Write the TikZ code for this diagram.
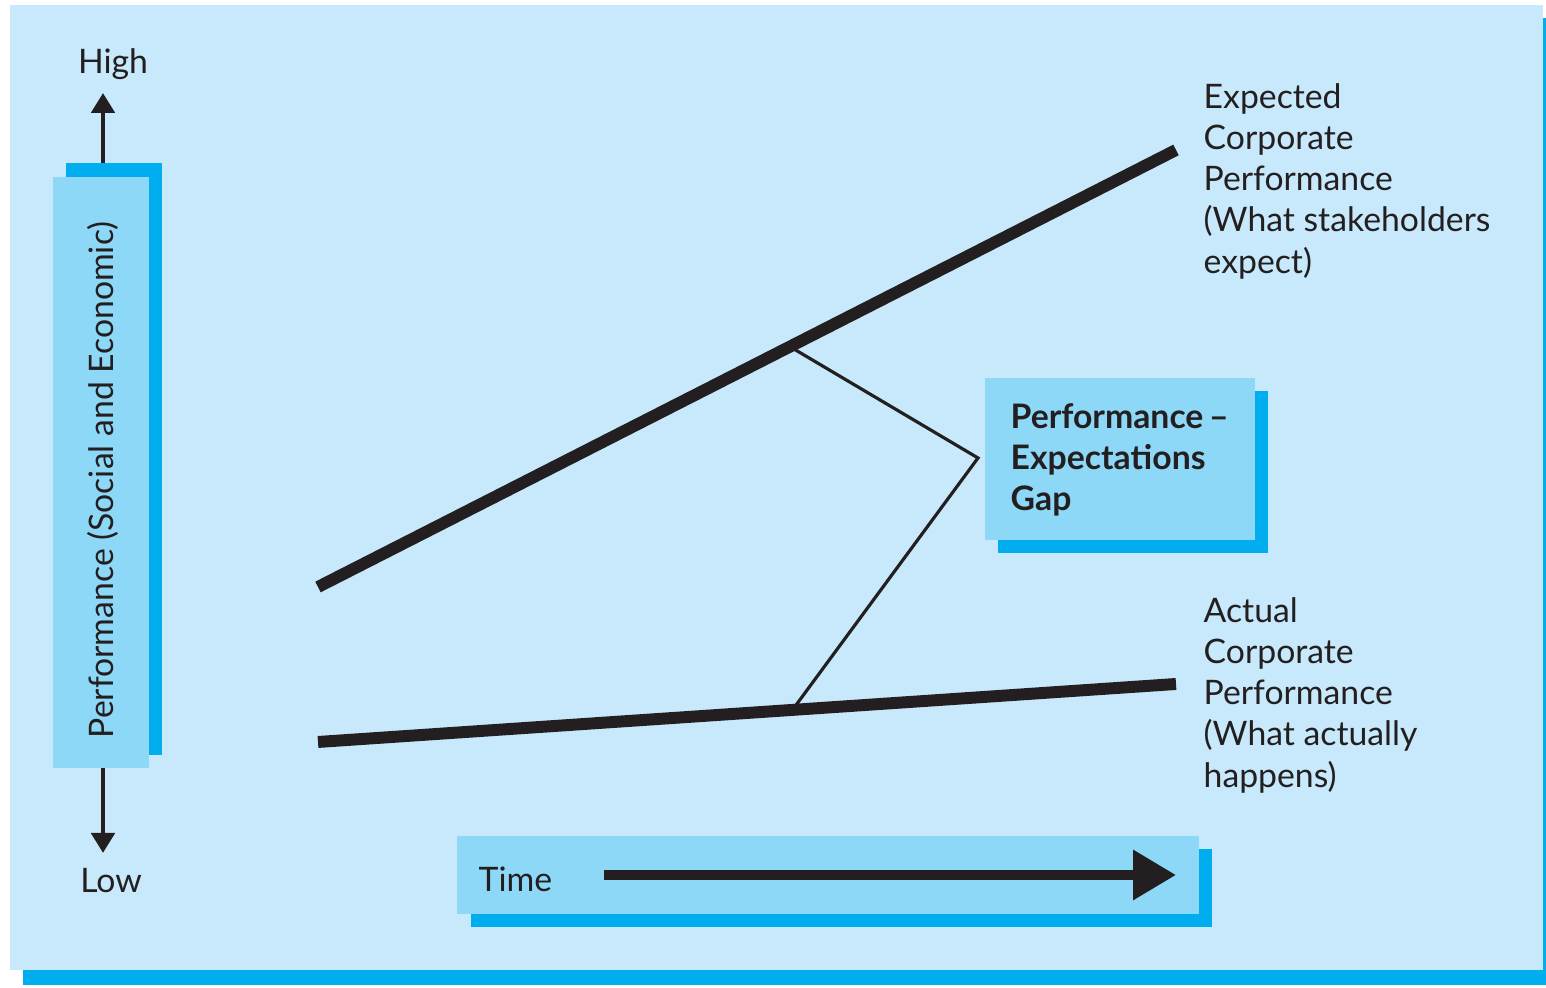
\documentclass[tikz,border=0pt]{standalone}
\usepackage{fontspec}
\setmainfont{Lato}
\usepackage{tikz}
\usetikzlibrary{calc, arrows.meta}
\definecolor{panelbg}{HTML}{C7E9FB}
\definecolor{boxfill}{HTML}{8DD7F7}
\definecolor{boxshade}{HTML}{00AEEF}
\definecolor{ink}{HTML}{231F20}
\tikzset{
    perfline/.style={ink, line width=3.4pt},
    gapline/.style={ink, line width=0.9pt, line join=miter},
    axisarrow/.style={ink, line width=1.4pt, -{Triangle[width=0.23cm,length=0.2cm]}},
    timearrow/.style={ink, line width=2.8pt, -{Triangle[width=0.48cm,length=0.43cm]}},
    txt/.style={inner sep=0pt, text=ink, font=\fontsize{9.6}{11.7}\selectfont},
    sidelabel/.style={txt, align=left, anchor=north west}
}

\begin{document}
\begin{tikzpicture}
        \useasboundingbox (0,0) rectangle (15.46,9.88);
        \fill[boxshade] (0.23,0.03) rectangle (15.46,9.70);
        \fill[panelbg] (0.10,0.18) rectangle (15.43,9.83);

        \fill[boxshade] (0.66,2.33) rectangle (1.62,8.25);
        \fill[boxfill] (0.53,2.20) rectangle (1.49,8.11);
        \node[txt, rotate=90] (perfaxis) at (1.03,5.08) {Performance (Social and Economic)};
        \node[txt] (high) at (1.13,9.24) {High};
        \node[txt] (low) at (1.11,1.07) {Low};
        \coordinate (upBase) at (1.03,8.25);
        \coordinate (upTip) at (1.03,8.95);
        \coordinate (downBase) at (1.03,2.20);
        \coordinate (downTip) at (1.03,1.35);
        \draw[axisarrow] (upBase) -- (upTip);
        \draw[axisarrow] (downBase) -- (downTip);

        \fill[boxshade] (4.71,0.61) rectangle (12.12,1.39);
        \fill[boxfill] (4.57,0.74) rectangle (11.99,1.52);
        \node[txt, anchor=west] (time) at (4.78,1.09) {Time};
        \coordinate (timeStart) at (6.04,1.13);
        \coordinate (timeEnd) at (11.76,1.13);
        \draw[timearrow] (timeStart) -- (timeEnd);

        \coordinate (exp0) at (3.18,4.01);
        \coordinate (exp1) at (11.76,8.38);
        \coordinate (act0) at (3.18,2.46);
        \coordinate (act1) at (11.76,3.04);
        \draw[perfline] (exp0) -- (exp1);
        \draw[perfline] (act0) -- (act1);

        \fill[boxshade] (9.98,4.35) rectangle (12.68,5.97);
        \fill[boxfill] (9.85,4.48) rectangle (12.55,6.10);
        \node[sidelabel, font=\fontsize{9.6}{11.7}\selectfont\bfseries] (gap) at (10.10,5.85)
            {Performance\,--\\Expectations\\Gap};
        \coordinate (gapTop) at ($(exp0)!0.55!(exp1)$);
        \coordinate (gapTip) at (9.78,5.30);
        \coordinate (gapLow) at ($(act0)!0.553!(act1)$);
        \draw[gapline] (gapTop) -- (gapTip) -- (gapLow);

        \node[sidelabel] (expected) at (12.03,9.05)
            {Expected\\Corporate\\Performance\\(What stakeholders\\expect)};
        \node[sidelabel] (actual) at (12.03,3.91)
            {Actual\\Corporate\\Performance\\(What actually\\happens)};
    \end{tikzpicture}
\end{document}
